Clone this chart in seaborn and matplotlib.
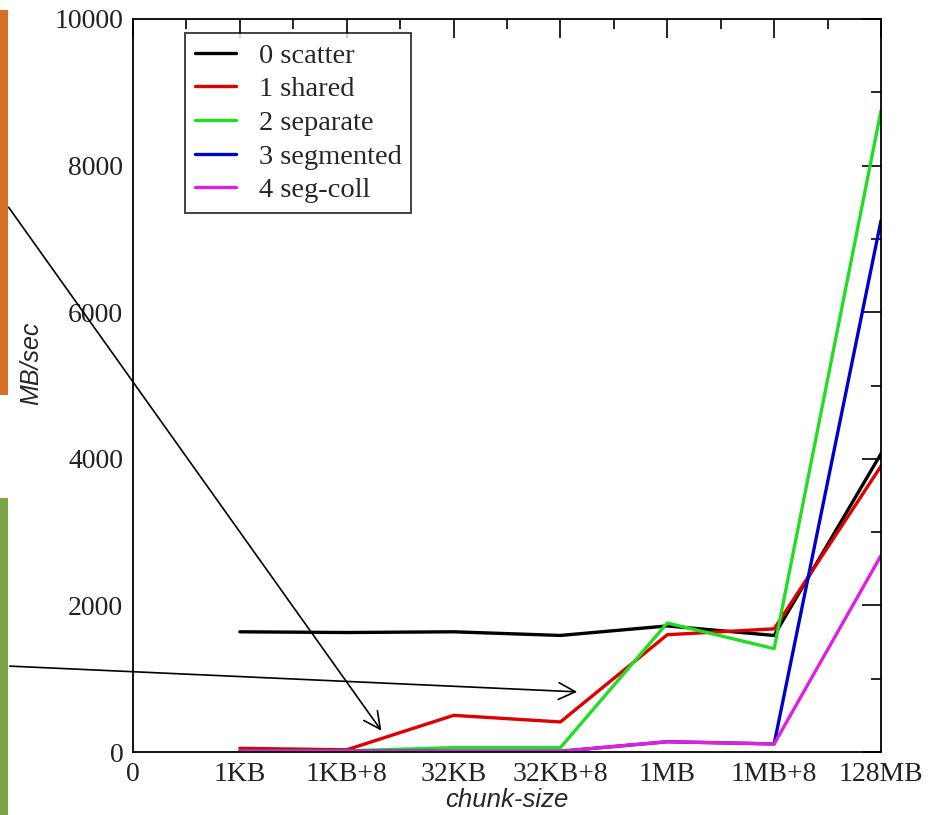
"""Recreate the chunk-size throughput line chart (MB/sec per access mode)."""

import matplotlib
matplotlib.use("Agg")
import matplotlib.pyplot as plt
from matplotlib.patches import Rectangle
from matplotlib.ticker import MultipleLocator
import pandas as pd
import seaborn as sns

# --- data --------------------------------------------------------------
chunk_labels = ["0", "1KB", "1KB+8", "32KB", "32KB+8", "1MB", "1MB+8", "128MB"]
chunk_pos = [1, 2, 3, 4, 5, 6, 7]

series_names = ["0 scatter", "1 shared", "2 separate", "3 segmented", "4 seg-coll"]
scatter = [1640, 1630, 1640, 1590, 1720, 1590, 4070]
shared = [50, 30, 500, 410, 1600, 1680, 3900]
separate = [15, 15, 60, 60, 1760, 1410, 8750]
segmented = [10, 10, 10, 10, 140, 110, 7250]
seg_coll = [10, 10, 10, 10, 140, 110, 2680]

colors = ["#000000", "#e00000", "#22dd22", "#0000cc", "#e020e0"]

sns.set_theme(style="white")
plt.rcParams["font.family"] = ["Liberation Serif", "DejaVu Serif"]

rows = []
for name, vals in zip(series_names, [scatter, shared, separate, segmented, seg_coll]):
    for x, v in zip(chunk_pos, vals):
        rows.append({"chunk": x, "MB/sec": v, "mode": name})
df = pd.DataFrame(rows)

fig = plt.figure(figsize=(9.4, 8.15), dpi=100)
ax = fig.add_axes([133 / 940, 63 / 815, 748 / 940, 733 / 815])

sns.lineplot(data=df, x="chunk", y="MB/sec", hue="mode", hue_order=series_names,
             palette=dict(zip(series_names, colors)), linewidth=2.4, ax=ax,
             estimator=None, sort=False, legend=False)

ax.set_xlim(0, 7)
ax.set_ylim(0, 10000)
ax.set_xticks(range(8))
ax.set_xticklabels(chunk_labels, fontsize=20)
ax.xaxis.set_minor_locator(MultipleLocator(0.5))
ax.yaxis.set_major_locator(MultipleLocator(2000))
ax.yaxis.set_minor_locator(MultipleLocator(1000))
ax.tick_params(axis="y", labelsize=20)
ax.tick_params(which="both", direction="in", top=True, right=True,
               color="black", width=1.2, labelcolor="#222222")
ax.tick_params(which="major", length=14, pad=7)
ax.tick_params(which="minor", length=7)
for side in ax.spines.values():
    side.set_color("black")
    side.set_linewidth(1.3)

ax.set_xlabel("chunk-size", fontsize=18.5, family="Liberation Sans", style="italic", labelpad=1)
ax.set_ylabel("MB/sec", fontsize=18, family="Liberation Sans", style="italic")
ax.yaxis.set_label_coords(-0.12, 0.53)

handles = [plt.Line2D([], [], color=c, linewidth=2.4) for c in colors]
leg = ax.legend(handles, series_names, loc="upper left", bbox_to_anchor=(0.069, 0.981),
                fontsize=20.5, frameon=True, fancybox=False, borderpad=0.35,
                labelspacing=0.27, handlelength=1.45, handletextpad=0.8, borderaxespad=0)
leg.get_frame().set_edgecolor("black")
leg.get_frame().set_linewidth(1.3)

# side decorations and pointer arrows from the slide this chart sits in
fig.add_artist(Rectangle((0, 420 / 815), 8 / 940, 385 / 815, transform=fig.transFigure,
                         facecolor="#d86f28", edgecolor="none"))
fig.add_artist(Rectangle((0, 0), 8 / 940, 317 / 815, transform=fig.transFigure,
                         facecolor="#79a446", edgecolor="none"))
for start, end in [((7, 610), (383, 82)), ((7, 149), (580, 123))]:
    ax.annotate("", xy=end, xytext=start, xycoords="figure pixels",
                textcoords="figure pixels", annotation_clip=False,
                arrowprops=dict(arrowstyle="->", color="black", lw=1.2, mutation_scale=30))

fig.savefig("out.png", dpi=100)
